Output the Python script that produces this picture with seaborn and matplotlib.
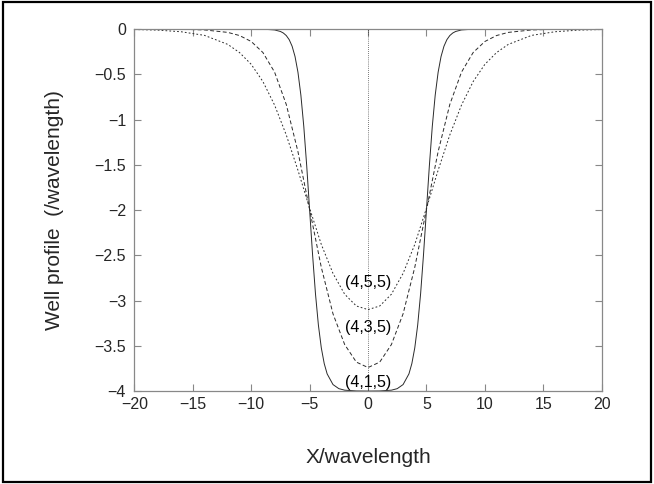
import pandas as pd
import matplotlib
matplotlib.use("Agg")
import matplotlib.pyplot as plt
from matplotlib.patches import Rectangle
import seaborn as sns

# values (x in wavelengths, depth in wavelengths)
x_415 = [-20, -12, -10, -9, -8, -7.5, -7.25, -7, -6.75, -6.5, -6.25, -6, -5.75, -5.5, -5.25, -5,
         -4.75, -4.5, -4.25, -4, -3.75, -3.5, -3, -2.5, -2, -1, 0,
         1, 2, 2.5, 3, 3.5, 3.75, 4, 4.25, 4.5, 4.75, 5,
         5.25, 5.5, 5.75, 6, 6.25, 6.5, 6.75, 7, 7.25, 7.5, 8, 9, 10, 12, 20]
y_415 = [0, 0, -0.0002, -0.0013, -0.0099, -0.0268, -0.0439, -0.0719, -0.1172, -0.1897, -0.3034, -0.4768,
         -0.7297, -1.0758, -1.5102, -2.0,
         -2.4898, -2.9242, -3.2703, -3.5232, -3.6966, -3.8103, -3.9281, -3.9732, -3.9901, -3.9987, -4.0,
         -3.9987, -3.9901, -3.9732, -3.9281, -3.8103, -3.6966, -3.5232, -3.2703, -2.9242, -2.4898, -2.0,
         -1.5102, -1.0758, -0.7297, -0.4768, -0.3034, -0.1897, -0.1172, -0.0719, -0.0439, -0.0268,
         -0.0099, -0.0013, -0.0002, 0, 0]

x_435 = [-20, -18, -16, -14, -12, -11, -10, -9, -8, -7, -6, -5, -4, -3, -2, -1, 0,
         1, 2, 3, 4, 5, 6, 7, 8, 9, 10, 11, 12, 14, 16, 18, 20]
y_435 = [-0.0002, -0.0007, -0.0026, -0.0099, -0.0372, -0.0718, -0.1376, -0.2592, -0.4761, -0.8331,
         -1.3544, -1.9949, -2.6331, -3.1464, -3.4859, -3.68, -3.74,
         -3.68, -3.4859, -3.1464, -2.6331, -1.9949, -1.3544, -0.8331, -0.4761, -0.2592, -0.1376,
         -0.0718, -0.0372, -0.0099, -0.0026, -0.0007, -0.0002]

x_455 = [-20, -18, -16, -14, -12, -11, -10, -9, -8, -7, -6, -5, -4, -3, -2, -1, 0,
         1, 2, 3, 4, 5, 6, 7, 8, 9, 10, 11, 12, 14, 16, 18, 20]
y_455 = [-0.005, -0.012, -0.03, -0.07, -0.17, -0.26, -0.39, -0.58, -0.84, -1.17, -1.56, -1.98,
         -2.38, -2.70, -2.93, -3.06, -3.10,
         -3.06, -2.93, -2.70, -2.38, -1.98, -1.56, -1.17, -0.84, -0.58, -0.39, -0.26, -0.17,
         -0.07, -0.03, -0.012, -0.005]

labels = ["(4,1,5)", "(4,3,5)", "(4,5,5)"]
label_y = [-3.90, -3.30, -2.80]

xticks = [-20, -15, -10, -5, 0, 5, 10, 15, 20]
yticks = [0, -0.5, -1, -1.5, -2, -2.5, -3, -3.5, -4]
ytick_labels = ["0", "\u22120.5", "\u22121", "\u22121.5", "\u22122", "\u22122.5", "\u22123", "\u22123.5", "\u22124"]
xtick_labels = ["\u221220", "\u221215", "\u221210", "\u22125", "0", "5", "10", "15", "20"]

df = pd.concat([
    pd.DataFrame({"x": x_415, "y": y_415, "well": labels[0]}),
    pd.DataFrame({"x": x_435, "y": y_435, "well": labels[1]}),
    pd.DataFrame({"x": x_455, "y": y_455, "well": labels[2]}),
])

sns.set_style("ticks")
plt.rcParams["font.family"] = ["Liberation Sans", "DejaVu Sans"]

fig = plt.figure(figsize=(6.54, 4.84), dpi=100)
ax = fig.add_axes([0.2055, 0.192, 0.7145, 0.748])

sns.lineplot(data=df, x="x", y="y", style="well", color="#2a2a2a", linewidth=0.7,
             dashes={labels[0]: "", labels[1]: (4, 2.5), labels[2]: (1.8, 2.2)},
             estimator=None, sort=False, legend=False, ax=ax)

# centre line
ax.plot([0, 0], [-4, 0], color="black", lw=0.5, ls=(0, (1, 2)))

for lab, ly in zip(labels, label_y):
    ax.text(0, ly, lab, ha="center", va="center", fontsize=11.5, color="black")

ax.set_xlim(-20, 20)
ax.set_ylim(-4, 0)
ax.set_xticks(xticks)
ax.set_xticklabels(xtick_labels)
ax.set_yticks(yticks)
ax.set_yticklabels(ytick_labels)
ax.tick_params(direction="in", top=True, right=True, length=5, width=0.8,
               color="#888888", labelsize=11.5)
ax.tick_params(axis="x", pad=4)
ax.tick_params(axis="y", pad=6)
for s in ax.spines.values():
    s.set_color("#888888")
    s.set_linewidth(0.9)

ax.set_xlabel("X/wavelength", fontsize=15, labelpad=26)
ax.set_ylabel("Well profile  (/wavelength)", fontsize=15, labelpad=22)

# outer frame of the figure
fig.add_artist(Rectangle((0.004, 0.004), 0.992, 0.992, transform=fig.transFigure,
                         fill=False, edgecolor="black", lw=1.6))

fig.savefig("out.png", dpi=100)
